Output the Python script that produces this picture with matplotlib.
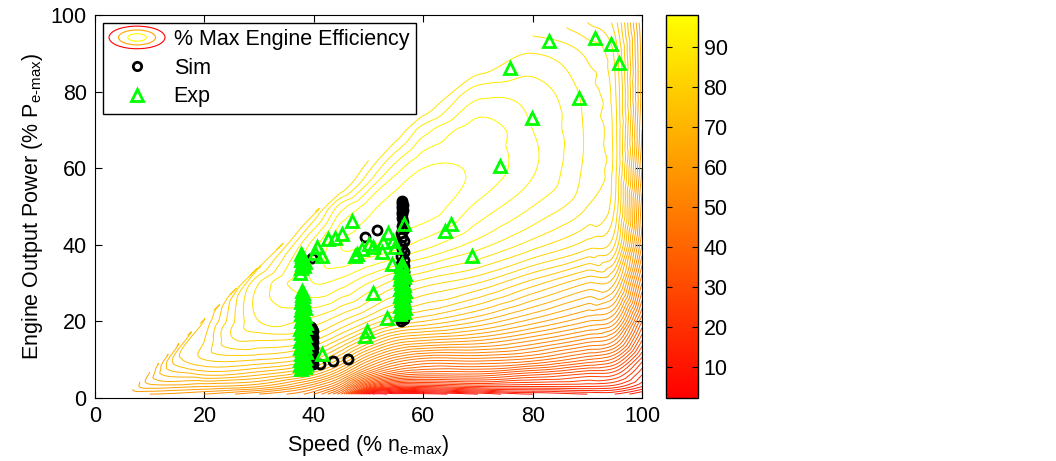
import numpy as np
import matplotlib
matplotlib.use('Agg')
import matplotlib.pyplot as plt
import matplotlib.tri as mtri
from matplotlib.patches import Ellipse
from matplotlib.legend_handler import HandlerBase
from matplotlib.colors import Normalize
from matplotlib.cm import ScalarMappable

plt.rcParams['font.family'] = ['Liberation Sans', 'DejaVu Sans']
plt.rcParams['font.size'] = 15.5

nan = np.nan

# efficiency map, % of max engine efficiency
speed_grid = [10, 20, 30, 40, 45, 50, 55, 60, 70, 80, 90, 95, 100]
power_grid = [1, 3, 6, 10, 15, 20, 30, 40, 50, 60, 70, 80, 90, 98]
eff_grid = [
    # 10   20   30   40   45   50   55   60    70    80    90    95    100
    [58,  56,  52,  46,  36,  4,   3,   3,    6,    10,   12,   12,   8],    # 1
    [63,  62,  60,  52,  44,  25,  18,  18,   20,   20,   20,   19,   14],   # 3
    [nan, 70,  68,  62,  54,  42,  35,  33,   33,   30,   27,   26,   18],   # 6
    [nan, 76,  76,  72,  65,  55,  48,  45,   45,   43,   38,   35,   23],   # 10
    [nan, 76,  82,  80,  75,  68,  62,  60,   58,   54,   49,   46,   30],   # 15
    [nan, nan, 86,  85,  82,  78,  74,  72,   68,   63,   58,   55,   36],   # 20
    [nan, nan, 86,  92,  91,  88,  85,  83,   80,   75,   70,   68,   46],   # 30
    [nan, nan, nan, 91,  96,  96,  95,  93,   89,   85,   81,   78,   54],   # 40
    [nan, nan, nan, nan, 91,  95,  97,  97.3, 93.5, 90,   86,   82,   57],   # 50
    [nan, nan, nan, nan, nan, nan, 93,  96,   95.5, 92.3, 87.3, 83,   60],   # 60
    [nan, nan, nan, nan, nan, nan, nan, 91,   95,   92,   87.5, 83,   62],   # 70
    [nan, nan, nan, nan, nan, nan, nan, nan,  91,   91,   87,   82.5, 63],   # 80
    [nan, nan, nan, nan, nan, nan, nan, nan,  nan,  88,   85.5, 81.5, 63],   # 90
    [nan, nan, nan, nan, nan, nan, nan, nan,  nan,  nan,  82,   79,   62],   # 98
]
# upper-left edge of the map (max power line)
edge_speed = [6, 10, 20, 30, 40, 45, 50, 55, 60, 70, 80]
edge_power = [1, 6.8, 20.5, 34, 47.5, 54.5, 62, 68.5, 75, 86, 94.5]
edge_eff = [58, 64, 74, 82, 85, 85, 86, 87, 87, 87, 86]
# crest of the low-speed wedges
ridge_speed = [10, 15, 25, 35]
ridge_power = [4.5, 9.5, 16, 26.5]
ridge_eff = [65, 73, 82, 89]

# simulation points
sim_speed = [39.3, 39.8, 39.4, 39.9, 39.5, 39.3, 39.8, 39.6, 39.4, 39.9, 39.5,
             39.3, 39.8, 39.6, 39.4, 39.9, 39.5, 39.3, 39.8, 39.6, 39.5,
             55.9, 56.4, 56.0, 56.5, 56.1, 55.9, 56.4, 56.2, 56.0, 56.5,
             55.9, 56.4, 56.0, 56.5, 56.1, 55.9, 56.4, 56.2, 56.0, 56.5,
             55.9, 56.4, 56.0, 56.5, 56.1, 55.9, 56.4, 56.2, 56.0, 56.5,
             55.9, 56.4, 56.0, 56.5, 56.1, 55.9, 56.4, 56.2, 56.0, 56.5,
             56.1, 56.3, 56.2, 56.2,
             39.7, 49.4, 51.5, 41.1, 43.5, 46.3]
sim_power = [8.5, 9.0, 9.5, 10.0, 10.5, 11.0, 11.5, 12.0, 12.5, 13.0, 13.5,
             14.0, 14.5, 15.0, 15.5, 16.0, 16.5, 17.0, 17.5, 18.0, 18.5,
             20.0, 20.5, 21.0, 21.5, 22.0, 22.5, 23.0, 23.5, 24.0, 24.5,
             25.0, 25.5, 26.0, 26.5, 27.0, 27.5, 28.0, 28.5, 29.0, 29.5,
             30.0, 30.5, 31.0, 31.5, 32.0, 32.5, 33.0, 33.5, 34.0, 34.5,
             35.0, 36.0, 37.0, 38.0, 39.0, 40.0, 41.0, 42.0, 43.0, 44.0,
             45.0, 46.0, 47.0, 48.0,
             36.5, 42.0, 43.9, 8.9, 9.7, 10.3]
sim_top_speed = [56.1, 56.3, 56.2, 56.2, 56.3, 56.2, 56.2]
sim_top_power = [48.5, 49.0, 49.5, 50.0, 50.5, 51.0, 51.5]

# experimental points
exp_col_a_speed = [37.6, 38.3, 37.4, 38.5, 37.9, 37.5, 38.4, 38.0, 37.6, 38.6,
                   37.8, 37.4, 38.3, 37.9, 38.5, 37.5, 38.2, 37.8, 38.4, 37.6,
                   38.1, 37.5, 38.3, 37.9, 38.5, 37.6, 38.2, 37.8, 38.4, 37.7,
                   38.1, 37.6, 38.3, 37.9, 38.2, 37.7, 38.1, 37.9, 38.0, 37.9,
                   38.0, 37.9,
                   37.6, 38.2, 37.8, 38.3, 37.7, 38.0, 37.8, 37.6]
exp_col_a_power = [7.5, 8.0, 8.5, 9.0, 9.5, 10.0, 10.5, 11.0, 11.5, 12.0,
                   12.5, 13.0, 13.5, 14.0, 14.5, 15.0, 15.5, 16.0, 16.5, 17.0,
                   17.5, 18.0, 18.5, 19.0, 19.5, 20.0, 20.5, 21.0, 21.5, 22.0,
                   22.5, 23.0, 23.5, 24.0, 24.5, 25.0, 25.5, 26.0, 26.5, 27.0,
                   27.5, 28.0,
                   34.0, 34.5, 35.0, 35.5, 36.0, 36.5, 37.0, 37.5]
exp_col_b_speed = [55.7, 56.4, 55.9, 56.6, 55.8, 56.3, 56.5, 55.9, 56.2, 55.7,
                   56.4, 56.0, 56.6, 55.8, 56.3, 56.5, 55.9, 56.2, 55.7, 56.4,
                   56.0, 56.6, 55.8, 56.3, 56.1, 56.0, 56.2]
exp_col_b_power = [22.0, 22.5, 23.0, 23.5, 24.0, 24.5, 25.0, 25.5, 26.0, 26.5,
                   27.0, 27.5, 28.0, 28.5, 29.0, 29.5, 30.0, 30.5, 31.0, 31.5,
                   32.0, 32.5, 33.0, 33.5, 34.0, 34.5, 35.0]
exp_speed = [37.5, 40.2, 41.4, 40.5, 42.6, 43.9, 45.1, 46.9, 47.5, 47.8, 48.8,
             50.0, 50.8, 52.4, 52.7, 53.6, 54.5, 54.8, 54.2, 56.4, 50.9, 53.3,
             49.7, 49.4, 41.4, 64.0, 65.1, 68.9, 74.0, 79.8, 88.5, 75.9, 82.9,
             91.4, 94.3, 95.7]
exp_power = [32.7, 37.9, 37.0, 39.3, 41.5, 41.9, 42.8, 46.2, 37.1, 37.6, 38.9,
             40.2, 39.3, 38.0, 40.6, 43.2, 41.0, 39.3, 34.9, 45.4, 27.5, 20.9,
             17.5, 16.2, 11.4, 43.7, 45.5, 37.1, 60.6, 73.2, 78.4, 86.2, 93.3,
             94.1, 92.3, 87.5]

# build the scattered map points
S, P = np.meshgrid(speed_grid, power_grid)
E = np.array(eff_grid, dtype=float)
ok = ~np.isnan(E)
pts_x = np.concatenate([S[ok], edge_speed, ridge_speed])
pts_y = np.concatenate([P[ok], edge_power, ridge_power])
pts_e = np.concatenate([E[ok], edge_eff, ridge_eff])
tri = mtri.Triangulation(pts_x, pts_y)
interp = mtri.CubicTriInterpolator(tri, pts_e, kind='geom')
refiner = mtri.UniformTriRefiner(tri)
tri_f, eff_f = refiner.refine_field(pts_e, triinterpolator=interp, subdiv=4)

fig = plt.figure(figsize=(10.56, 4.61), dpi=100)
ax = fig.add_axes([0.0900, 0.1367, 0.5180, 0.8308])
cax = fig.add_axes([0.6307, 0.1367, 0.0303, 0.8308])

norm = Normalize(vmin=2.2, vmax=97.9)
levels = np.arange(2, 98, 2)
ax.tricontour(tri_f, eff_f, levels=levels, cmap='autumn', norm=norm, linewidths=0.7)

sim_x = sim_speed + sim_top_speed
sim_y = sim_power + sim_top_power
sim_line, = ax.plot(sim_x, sim_y, 'o', ls='none', mfc='none', mec='k',
                    ms=6.5, mew=2)
exp_x = exp_col_a_speed + exp_col_b_speed + exp_speed
exp_y = exp_col_a_power + exp_col_b_power + exp_power
exp_line, = ax.plot(exp_x, exp_y, '^', ls='none', mfc='none', mec='#00ff00',
                    ms=9, mew=2)

ax.set_xlim(0, 100)
ax.set_ylim(0, 100)
ax.set_xticks([0, 20, 40, 60, 80, 100])
ax.set_yticks([0, 20, 40, 60, 80, 100])
ax.tick_params(direction='in', top=True, right=True, length=5, pad=6)
ax.set_xlabel('Speed (% n$_{\\mathregular{e\u2010max}}$)')
ax.set_ylabel('Engine Output Power (% P$_{\\mathregular{e\u2010max}}$)')


class ContourKey:
    pass


class ContourHandler(HandlerBase):
    def create_artists(self, legend, orig_handle, xdescent, ydescent,
                       width, height, fontsize, trans):
        cx = width / 2 - xdescent
        cy = height / 2 - ydescent
        arts = []
        for f, c in zip([1.0, 0.66, 0.33], ['red', 'orange', 'yellow']):
            arts.append(Ellipse((cx, cy), width * f, height * 1.5 * f, fill=False,
                                edgecolor=c, lw=0.8, transform=trans))
        return arts


leg = ax.legend([ContourKey(), sim_line, exp_line],
                ['% Max Engine Efficiency', 'Sim', 'Exp'],
                handler_map={ContourKey: ContourHandler()},
                loc='upper left', bbox_to_anchor=(0.0, 1.0), borderaxespad=0.35,
                fancybox=False, edgecolor='k', framealpha=1,
                handlelength=2.6, handletextpad=0.4, labelspacing=0.35,
                borderpad=0.3)
leg.get_frame().set_linewidth(1.0)
leg.legend_handles[1].set_markersize(6)
leg.legend_handles[2].set_markersize(8)

sm = ScalarMappable(norm=norm, cmap='autumn')
cbar = fig.colorbar(sm, cax=cax)
cbar.set_ticks([10, 20, 30, 40, 50, 60, 70, 80, 90])
cbar.ax.tick_params(direction='in', left=True, right=True, length=4, pad=4)
cbar.outline.set_linewidth(1.0)

fig.savefig('out.png', dpi=100)
